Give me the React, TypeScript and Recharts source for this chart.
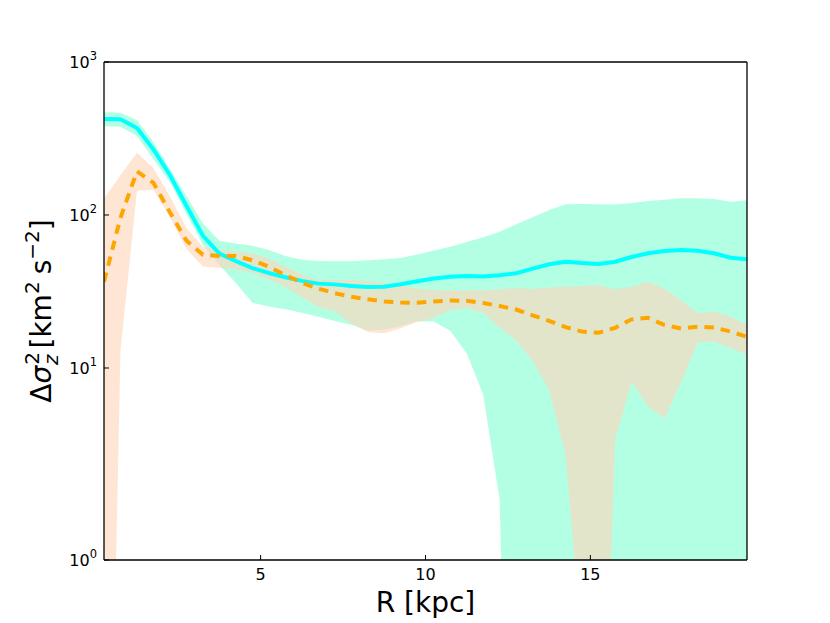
import React from 'react';
import { ComposedChart, Area, Line, XAxis, YAxis, Label } from 'recharts';

// galactocentric radius [kpc]
const radius = [
  0.25, 0.75, 1.25, 1.75, 2.25, 2.75, 3.25, 3.75, 4.25, 4.75,
  5.25, 5.75, 6.25, 6.75, 7.25, 7.75, 8.25, 8.75, 9.25, 9.75,
  10.25, 10.75, 11.25, 11.75, 12.25, 12.75, 13.25, 13.75, 14.25, 14.75,
  15.25, 15.75, 16.25, 16.75, 17.25, 17.75, 18.25, 18.75, 19.25, 19.75,
];

// cyan solid curve and its band
const sigmaCyan = [
  424, 423, 370, 268, 182, 115, 73, 56, 50, 45,
  41.8, 39.2, 37.1, 35.6, 35.2, 34.4, 33.8, 34, 35.3, 36.9,
  38.4, 39.5, 39.9, 39.7, 40.4, 41.6, 44.6, 47.6, 49.5, 48.5,
  47.8, 49.5, 53.1, 56.2, 58.2, 59.1, 58.4, 56.2, 52.6, 51.3,
];
const sigmaCyanLow = [
  380, 378, 328, 232, 164, 102, 64, 47, 36, 26.7,
  25.2, 24.2, 23, 21.6, 20.3, 19.2, 17.6, 17.8, 18.8, 20.2,
  20.1, 17.5, 12.5, 6.7, 1.37, 0.0001, 0.0001, 0.0001, 0.0001, 0.0001,
  0.0001, 0.0001, 0.0001, 0.0001, 0.0001, 0.0001, 0.0001, 0.0001, 0.0001, 0.0001,
];
const sigmaCyanHigh = [
  470, 466, 416, 300, 200, 133, 88, 68, 65, 63,
  59, 54, 51, 50, 49.8, 49.9, 50.6, 51.4, 52.4, 55.1,
  58.5, 62, 66.5, 71.6, 77.8, 87, 96.6, 108, 117.5, 118,
  117.5, 117, 119.6, 123.3, 126, 128.8, 128.8, 127, 122, 125,
];

// orange dashed curve and its band
const sigmaOrange = [
  36.6, 96, 193, 162, 104, 68, 55, 54, 54, 50.6,
  45.9, 40.5, 36.1, 33, 30.8, 29.2, 28.1, 27.2, 26.8, 26.7,
  27.2, 27.6, 27.5, 26.6, 25.4, 24.1, 22.1, 20.3, 18.5, 17.3,
  17, 18.3, 20.8, 21.3, 19.1, 18.1, 18.6, 18.4, 17.3, 16,
];
const sigmaOrangeLow = [
  0.0001, 13, 144, 146, 97, 60, 46, 45, 44, 42,
  38, 34, 29, 25, 23.5, 19.5, 17.2, 16.9, 18.2, 20,
  21.2, 23.9, 24.7, 22.9, 18.3, 15.2, 11.1, 7.2, 2.7, 0.15,
  0.0025, 3.4, 8.1, 5.6, 4.7, 8.1, 14.6, 14.9, 13.5, 12.2,
];
const sigmaOrangeHigh = [
  128, 182, 255, 202, 132, 82, 62, 59, 58, 56,
  52, 46, 41, 37.6, 37.6, 37.6, 37, 36, 34.7, 33,
  32.3, 32.2, 32.2, 32.2, 32.6, 33.3, 32.8, 33.6, 34, 34.4,
  34.9, 32.6, 34, 36.6, 33, 27.6, 22.8, 23.3, 21.6, 19.1,
];

const xTicks = [5, 10, 15];
const yMin = 0.556;
const yTicks = [yMin, 10, 100, 1000];
const yTickExponents = ['0', '1', '2', '3'];

const data = radius.map((r, i) => ({
  r,
  cyan: sigmaCyan[i],
  cyanBand: [sigmaCyanLow[i], sigmaCyanHigh[i]],
  orange: sigmaOrange[i],
  orangeBand: [sigmaOrangeLow[i], sigmaOrangeHigh[i]],
}));

const FONT = '"DejaVu Sans", sans-serif';

const XTick = ({ x, y, payload }: any) => (
  <text x={x} y={y + 12} textAnchor="middle" fontSize={16} fontFamily={FONT} fill="#000">
    {payload.value}
  </text>
);

const YTick = ({ x, y, index }: any) => (
  <text x={x} y={y + 6} textAnchor="end" fontSize={16} fontFamily={FONT} fill="#000">
    10
    <tspan dy={-8} fontSize={11.5}>
      {yTickExponents[index]}
    </tspan>
  </text>
);

const XTitle = ({ viewBox }: any) => (
  <text
    x={viewBox.x + viewBox.width / 2}
    y={viewBox.y + 52}
    textAnchor="middle"
    fontSize={28}
    fontFamily={FONT}
    fill="#000"
  >
    R [kpc]
  </text>
);

const YTitle = ({ viewBox }: any) => {
  const cx = viewBox.x + 51;
  const cy = viewBox.y + viewBox.height / 2;
  return (
    <text
      x={cx}
      y={cy}
      transform={`rotate(-90, ${cx}, ${cy})`}
      textAnchor="middle"
      fontSize={28}
      fontFamily={FONT}
      fill="#000"
    >
      Δ<tspan fontStyle="italic">σ</tspan>
      <tspan dx={1} dy={-12} fontSize={20}>2</tspan>
      <tspan dx={-13} dy={19} fontSize={20} fontStyle="italic">z</tspan>
      <tspan dx={6} dy={-7}>[km</tspan>
      <tspan dy={-12} fontSize={20}>2</tspan>
      <tspan dx={7} dy={12}>s</tspan>
      <tspan dy={-12} fontSize={20}>−2</tspan>
      <tspan dy={12}>]</tspan>
    </text>
  );
};

const axisLine = { stroke: '#000', strokeWidth: 1.3 };
const tickLine = { stroke: '#000', strokeWidth: 1 };

export default function App() {
  return (
    <div style={{ width: 830, height: 623, background: '#fff' }}>
      <style>{'body{margin:0}'}</style>
      <ComposedChart
        width={830}
        height={623}
        data={data}
        margin={{ top: 52, right: 73, bottom: 0, left: 0 }}
      >
        <XAxis
          dataKey="r"
          type="number"
          domain={[0.25, 19.75]}
          ticks={xTicks}
          allowDataOverflow
          height={63}
          tickSize={-5}
          tickMargin={13}
          tick={<XTick />}
          axisLine={axisLine}
          tickLine={tickLine}
        >
          <Label content={<XTitle />} />
        </XAxis>
        <XAxis
          xAxisId="top"
          orientation="top"
          dataKey="r"
          type="number"
          domain={[0.25, 19.75]}
          ticks={xTicks}
          allowDataOverflow
          height={10}
          tickSize={-5}
          tick={false}
          axisLine={axisLine}
          tickLine={tickLine}
        />
        <YAxis
          type="number"
          scale="log"
          domain={[yMin, 1000]}
          ticks={yTicks}
          allowDataOverflow
          width={104}
          tickSize={-5}
          tickMargin={12}
          tick={<YTick />}
          axisLine={axisLine}
          tickLine={tickLine}
        >
          <Label content={<YTitle />} />
        </YAxis>
        <YAxis
          yAxisId="right"
          orientation="right"
          type="number"
          scale="log"
          domain={[yMin, 1000]}
          ticks={yTicks}
          allowDataOverflow
          width={10}
          tickSize={-5}
          tick={false}
          axisLine={axisLine}
          tickLine={tickLine}
        />
        <Area
          dataKey="cyanBand"
          type="linear"
          fill="#B2FFE4"
          fillOpacity={1}
          stroke="none"
          isAnimationActive={false}
        />
        <Area
          dataKey="orangeBand"
          type="linear"
          fill="#FFD5B9"
          fillOpacity={0.62}
          stroke="none"
          isAnimationActive={false}
        />
        <Line
          dataKey="cyan"
          type="linear"
          stroke="#00FFFF"
          strokeWidth={4}
          dot={false}
          isAnimationActive={false}
        />
        <Line
          dataKey="orange"
          type="linear"
          stroke="#FFA500"
          strokeWidth={4}
          strokeDasharray="9.5 7"
          dot={false}
          isAnimationActive={false}
        />
      </ComposedChart>
    </div>
  );
}
